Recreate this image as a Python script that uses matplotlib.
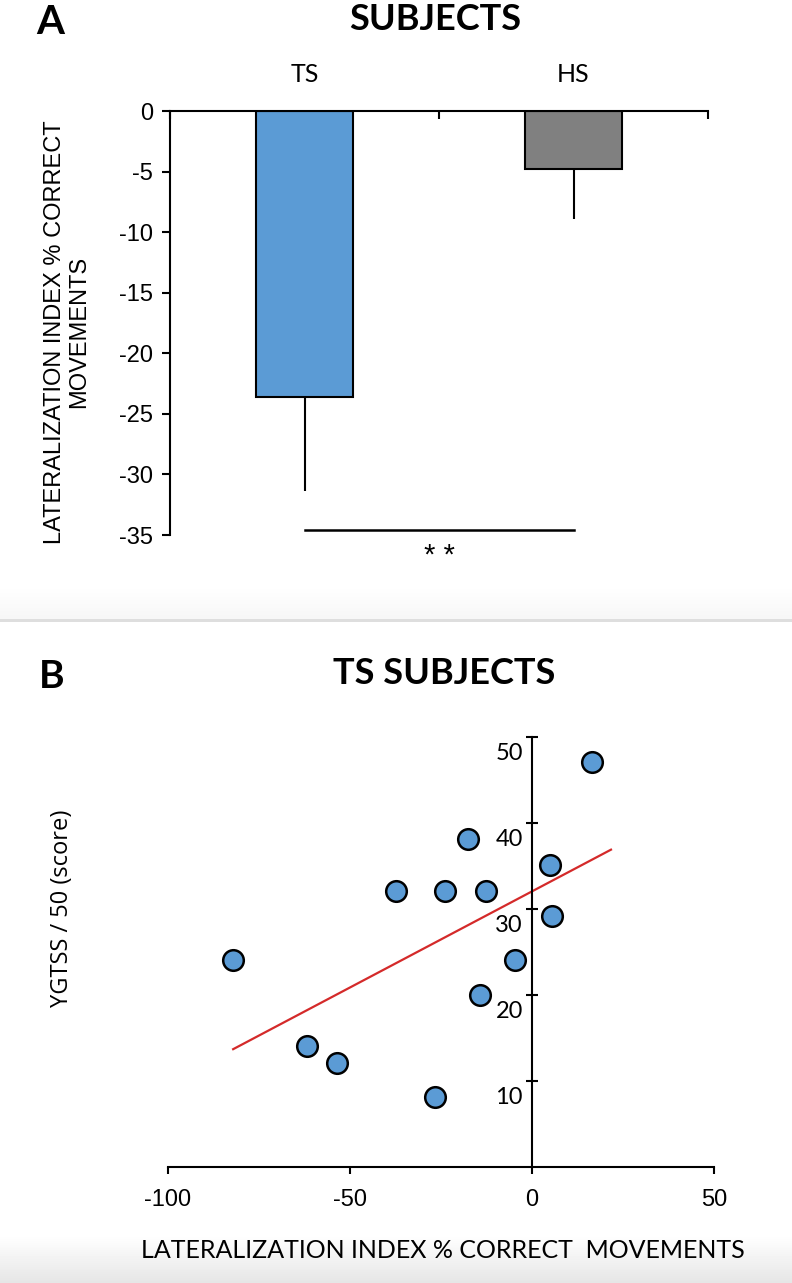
import matplotlib
matplotlib.use('Agg')
import matplotlib.pyplot as plt
import matplotlib.transforms as mtransforms
import numpy as np

plt.rcParams['font.family'] = ['Liberation Sans', 'DejaVu Sans']
plt.rcParams['axes.unicode_minus'] = False

#=========================#
# data
#=========================#

# panel A: lateralization index per group
groups = ['TS', 'HS']
group_means = [-23.6, -4.8]
group_err = [7.8, 4.1]
bar_colors = ['#5b9bd5', '#808080']
sig_level = -34.6

# panel B: TS subjects, lateralization index vs YGTSS
li_x = [-82.1, -61.8, -53.6, -37.4, -23.9, -17.6, -12.6, -14.3, -26.6, -4.7, 4.9, 5.5, 16.5]
ygtss_y = [24.1, 14.1, 12.1, 32.1, 32.1, 38.1, 32.1, 20.0, 8.1, 24.1, 35.1, 29.2, 47.1]
fit_x = [-82.1, 21.7]
fit_y = [13.7, 36.9]

W, H = 792, 1283
title_font = ['Lato', 'DejaVu Sans']
tick_font = ['Liberation Sans', 'DejaVu Sans']

fig = plt.figure(figsize=(W / 100, H / 100), dpi=100)

# screenshot-like grey bands (separator and bottom edge)
bg = fig.add_axes([0, 0, 1, 1], zorder=-10)
bg.axis('off')
shade = np.ones((H, 1))
shade[585:619, 0] = np.linspace(1.0, 0.965, 34)
shade[619:622, 0] = 0.87
shade[1235:, 0] = np.linspace(1.0, 0.9, H - 1235)
bg.imshow(shade, cmap='gray', vmin=0, vmax=1, aspect='auto', extent=[0, 1, 0, 1])

#=========================#
# panel A
#=========================#

ax1 = fig.add_axes([170 / W, 1 - 535 / H, 538 / W, 424 / H])
xpos = [0.5, 1.5]
ax1.bar(xpos, group_means, width=0.36, color=bar_colors, edgecolor='black', linewidth=1.5, zorder=2)
ax1.errorbar(xpos, group_means, yerr=[group_err, [0, 0]], fmt='none', ecolor='black',
             elinewidth=1.5, capsize=0, zorder=1)

ax1.set_xlim(0, 2)
ax1.set_ylim(-35, 0)
ax1.spines['right'].set_visible(False)
ax1.spines['bottom'].set_visible(False)
ax1.spines['top'].set_linewidth(1.5)
ax1.spines['left'].set_linewidth(1.5)

ax1.xaxis.tick_top()
ax1.set_xticks([0, 1, 2])
ax1.set_xticklabels(['', '', ''])
ax1.set_xticks(xpos, minor=True)
ax1.set_xticklabels(groups, minor=True, family=title_font, fontsize=18)
ax1.tick_params(axis='x', which='major', direction='in', length=6, width=1.5)
ax1.tick_params(axis='x', which='minor', length=0, pad=18, top=True, labeltop=True,
                bottom=False, labelbottom=False)

ax1.set_yticks(range(-35, 1, 5))
ax1.set_yticklabels([str(v) for v in range(-35, 1, 5)], family=tick_font, fontsize=17)
ax1.tick_params(axis='y', direction='out', length=6, width=1.5, pad=6)

ax1.plot([0.5, 1.5], [sig_level, sig_level], color='black', linewidth=1.8, clip_on=False)
ax1.text(1.0, -36.7, '* *', ha='center', va='center', fontsize=21, clip_on=False)

fig.text(67 / W, 1 - 332 / H, 'LATERALIZATION INDEX % CORRECT\nMOVEMENTS', rotation=90,
         ha='center', va='center', multialignment='center', fontsize=17, linespacing=1.1)
fig.text(435 / W, 1 - 20 / H, 'SUBJECTS', ha='center', va='center', family=title_font,
         fontsize=26, fontweight='bold')
fig.text(50 / W, 1 - 22 / H, 'A', ha='center', va='center', family=title_font, fontsize=29,
         fontweight='bold')

#=========================#
# panel B
#=========================#

ax2 = fig.add_axes([168 / W, 1 - 1167 / H, 546 / W, 430 / H])
ax2.plot(fit_x, fit_y, color='#d42a2a', linewidth=1.6, zorder=2)
ax2.scatter(li_x, ygtss_y, s=220, facecolor='#5b9bd5', edgecolor='black', linewidth=1.8, zorder=3)

ax2.set_xlim(-100, 50)
ax2.set_ylim(0, 50)
ax2.spines['top'].set_visible(False)
ax2.spines['right'].set_visible(False)
ax2.spines['left'].set_position(('data', 0))
ax2.spines['left'].set_linewidth(1.5)
ax2.spines['bottom'].set_linewidth(1.5)

ax2.set_xticks([-100, -50, 0, 50])
ax2.set_xticklabels(['-100', '-50', '0', '50'], family=tick_font, fontsize=17)
ax2.tick_params(axis='x', direction='out', length=5, width=1.5, pad=11)
ax2.set_yticks([10, 20, 30, 40, 50])
ax2.tick_params(axis='y', direction='inout', length=9, width=1.5, pad=2)
ax2.set_yticklabels(['10', '20', '30', '40', '50'], family=title_font, fontsize=17)
offset = mtransforms.ScaledTranslation(0, -0.15, fig.dpi_scale_trans)
for lab in ax2.get_yticklabels():
    lab.set_transform(lab.get_transform() + offset)

fig.text(62 / W, 1 - 908 / H, 'YGTSS / 50 (score)', rotation=90, ha='center', va='center',
         family=['Open Sans', 'DejaVu Sans'], fontsize=17)
fig.text(443 / W, 1 - 1250 / H, 'LATERALIZATION INDEX % CORRECT  MOVEMENTS', ha='center',
         va='center', family=title_font, fontsize=18)
fig.text(444 / W, 1 - 674 / H, 'TS SUBJECTS', ha='center', va='center', family=title_font,
         fontsize=26, fontweight='bold')
fig.text(52 / W, 1 - 676 / H, 'B', ha='center', va='center', family=title_font, fontsize=28,
         fontweight='bold')

fig.savefig('out.png', dpi=100)
